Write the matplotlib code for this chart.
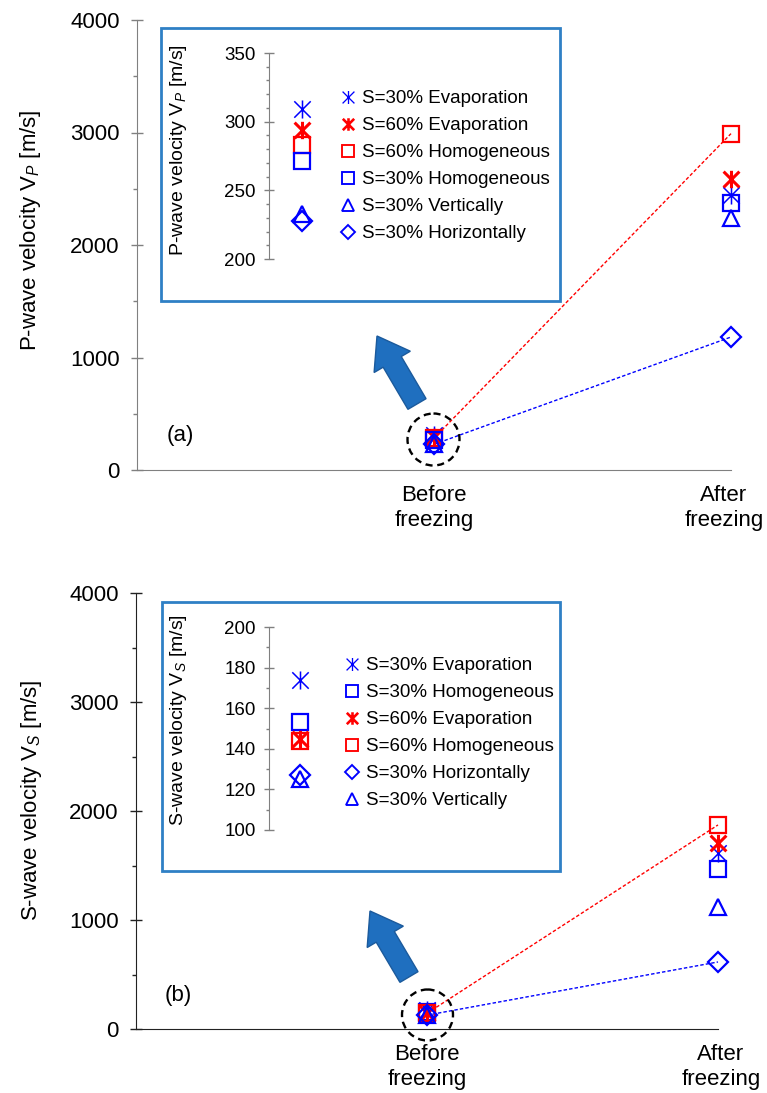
import matplotlib.pyplot as plt
from matplotlib.lines import Line2D
from matplotlib.patches import Rectangle, Circle, FancyArrow
from matplotlib.path import Path
from matplotlib.ticker import MultipleLocator
from matplotlib.transforms import Affine2D, ScaledTranslation

plt.rcParams['font.family'] = ['Liberation Sans', 'DejaVu Sans']
plt.rcParams['mathtext.fontset'] = 'custom'
plt.rcParams['mathtext.rm'] = 'Liberation Sans'
plt.rcParams['mathtext.it'] = 'Liberation Sans:italic'

conditions = ["Before\nfreezing", "After\nfreezing"]

vp_labels = ["S=30% Evaporation", "S=60% Evaporation", "S=60% Homogeneous",
             "S=30% Homogeneous", "S=30% Vertically", "S=30% Horizontally"]
vp_before = [309, 294, 283, 271, 233, 228]
vp_after = [2444, 2587, 2990, 2373, 2240, 1182]

vs_labels = ["S=30% Evaporation", "S=30% Homogeneous", "S=60% Evaporation",
             "S=60% Homogeneous", "S=30% Horizontally", "S=30% Vertically"]
vs_before = [174, 153, 145, 144, 127, 125]
vs_after = [1615, 1468, 1706, 1872, 615, 1119]

linked = ["S=60% Homogeneous", "S=30% Horizontally"]

# asterisk = x plus vertical stroke
ast = Path([(-1, -1), (1, 1), (-1, 1), (1, -1), (0, -1.1), (0, 1.1)],
           [Path.MOVETO, Path.LINETO] * 3)
estilo = {
    "S=30% Evaporation": dict(marker=ast, color='#0000FF', mew=1.1, ms=13),
    "S=60% Evaporation": dict(marker=ast, color='#FF0000', mew=2.2, ms=12.5),
    "S=60% Homogeneous": dict(marker='s', color='#FF0000', mew=1.6, ms=11.5),
    "S=30% Homogeneous": dict(marker='s', color='#0000FF', mew=1.6, ms=11.5),
    "S=30% Vertically": dict(marker='^', color='#0000FF', mew=1.6, ms=11.5),
    "S=30% Horizontally": dict(marker='D', color='#0000FF', mew=1.6, ms=10),
}

W, H = 767, 1093
fig = plt.figure(figsize=(W / 100, H / 100), dpi=100)
px = Affine2D().scale(1 / 100, -1 / 100).translate(0, H / 100) + fig.dpi_scale_trans


def rect(x0, y0, x1, y1):
    return [x0 / W, 1 - y1 / H, (x1 - x0) / W, (y1 - y0) / H]


def marcador(ax, x, y, lab, **kw):
    s = estilo[lab]
    ax.plot(x, y, linestyle='none', marker=s['marker'], ms=s['ms'], mew=s['mew'],
            mec=s['color'], mfc='none', zorder=4, **kw)


def painel(ax, labels, before, after, axcol, ylab, letra, lpos, lab_y, shift):
    for lab, b, a in zip(labels, before, after):
        if lab in linked:
            ax.plot([1, 2], [b, a], ls=(0, (2.5, 1.5)), lw=1,
                    color=estilo[lab]['color'], zorder=3, clip_on=False)
    for lab, b, a in zip(labels, before, after):
        marcador(ax, [1, 2], [b, a], lab, clip_on=False)
    ax.set_xlim(0, 2)
    ax.set_ylim(0, 4000)
    ax.yaxis.set_major_locator(MultipleLocator(1000))
    ax.yaxis.set_minor_locator(MultipleLocator(500))
    ax.set_xticks([1, 2])
    ax.set_xticklabels(conditions, fontsize=16, linespacing=1.25)
    ax.tick_params(axis='x', length=0, pad=11)
    last = ax.get_xticklabels()[-1]
    last.set_transform(last.get_transform() + ScaledTranslation(shift / 100, 0, fig.dpi_scale_trans))
    ax.tick_params(axis='y', which='major', direction='inout', length=9, width=1,
                   color=axcol, labelsize=16, pad=8)
    ax.tick_params(axis='y', which='minor', direction='out', length=3, width=1, color=axcol)
    for sp in ['top', 'right']:
        ax.spines[sp].set_visible(False)
    for sp in ['left', 'bottom']:
        ax.spines[sp].set_color(axcol)
    ax.set_ylabel(ylab, fontsize=16)
    ax.yaxis.set_label_coords(-0.158, lab_y)
    fig.text(lpos[0] / W, 1 - lpos[1] / H, letra, fontsize=16, va='center')


def inset(box, axr, labels, before, lo, hi, major, ylab, lab_xy, leg_xy, mx):
    fig.add_artist(Rectangle((box[0], box[1]), box[2] - box[0], box[3] - box[1],
                             transform=px, facecolor='white', edgecolor='#2F80C5',
                             lw=2, zorder=0.5))
    ins = fig.add_axes(rect(*axr))
    ins.set_zorder(1)
    ins.patch.set_alpha(0)
    for lab, b in zip(labels, before):
        marcador(ins, [mx], [b], lab, clip_on=False)
    ins.set_xlim(0, 1)
    ins.set_ylim(lo, hi)
    ins.yaxis.set_major_locator(MultipleLocator(major))
    ins.yaxis.set_minor_locator(MultipleLocator(10))
    ins.set_xticks([])
    for sp in ['top', 'right', 'bottom']:
        ins.spines[sp].set_visible(False)
    ins.spines['left'].set_color('#808080')
    ins.tick_params(axis='y', which='major', direction='inout', length=7, width=1,
                    color='#808080', labelsize=13.5, pad=6)
    ins.tick_params(axis='y', which='minor', direction='out', length=2.5, width=1,
                    color='#808080')
    ins.set_ylabel(ylab, fontsize=14)
    ins.yaxis.set_label_coords(*lab_xy)
    handles = []
    for lab in labels:
        s = estilo[lab]
        handles.append(Line2D([], [], linestyle='none', marker=s['marker'], ms=s['ms'],
                              mew=s['mew'] * 0.85, mec=s['color'], mfc='none'))
    ins.legend(handles, labels, loc='upper left', bbox_to_anchor=leg_xy,
               bbox_transform=px, frameon=False, fontsize=13.5, markerscale=0.72,
               handlelength=0.8, handletextpad=0.35, labelspacing=0.53,
               borderpad=0, borderaxespad=0)
    return ins


ax_a = fig.add_axes(rect(137, 20, 731, 470))
painel(ax_a, vp_labels, vp_before, vp_after, '#808080',
       r"P-wave velocity $\mathrm{V}_{P}$ [m/s]", "(a)", (167, 436), 0.533, -7)
inset((161, 28, 560, 301), (269, 53, 540, 259), vp_labels, vp_before, 200, 350, 50,
      r"P-wave velocity $\mathrm{V}_{P}$ [m/s]", (-0.295, 0.53), (340, 90), 0.122)

ax_b = fig.add_axes(rect(136, 593, 718, 1029))
painel(ax_b, vs_labels, vs_before, vs_after, '#222222',
       r"S-wave velocity $\mathrm{V}_{S}$ [m/s]", "(b)", (165, 996), 0.525, 3)
inset((162, 602, 560, 871), (269, 627, 540, 830), vs_labels, vs_before, 100, 200, 20,
      r"S-wave velocity $\mathrm{V}_{S}$ [m/s]", (-0.295, 0.54), (344, 657), 0.114)

# arrows and dashed circles around the before-freezing points
for tail, tip in [((417, 404), (377, 336)), ((409, 977), (370, 911))]:
    fig.add_artist(FancyArrow(tail[0], tail[1], tip[0] - tail[0], tip[1] - tail[1],
                              width=21, head_width=42, head_length=30,
                              length_includes_head=True, transform=px,
                              facecolor='#1F6FBF', edgecolor='#1B5A9C', lw=1, zorder=2))
for c, r in [((433.5, 439.5), 26), ((427.5, 1015), 25.5)]:
    fig.add_artist(Circle(c, r, transform=px, fill=False, edgecolor='black',
                          lw=1.7, linestyle=(0, (3, 2)), zorder=5))

plt.savefig("out.png", dpi=100)
